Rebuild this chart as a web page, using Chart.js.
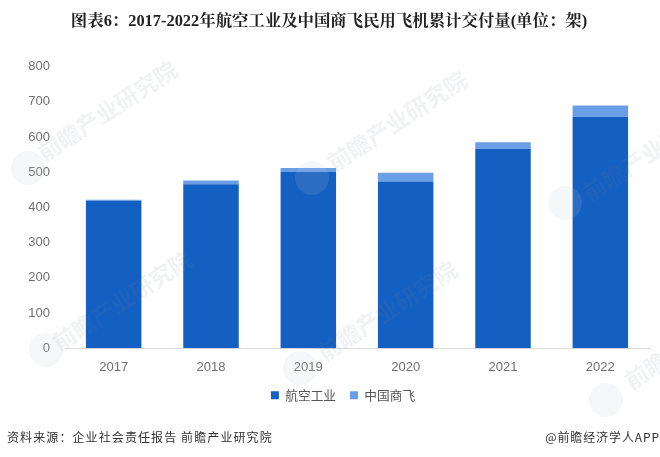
<!DOCTYPE html>
<html><head><meta charset="utf-8">
<script src="https://cdn.jsdelivr.net/npm/chart.js@4"></script>
<style>
html,body{margin:0;padding:0;background:#fff;width:660px;height:457px;overflow:hidden}
#wrap{position:relative;width:660px;height:457px}
canvas{position:absolute;left:0;top:0}
.f{position:absolute;top:429px;font:12px "Noto Sans CJK SC","Noto Sans",sans-serif;color:#333;line-height:16px;white-space:nowrap;letter-spacing:1.1px}
</style></head><body>
<div id="wrap"><canvas id="c" width="660" height="457"></canvas>
<div class="f" style="left:7px">资料来源：企业社会责任报告 前瞻产业研究院</div>
<div class="f" style="right:0;letter-spacing:.9px">@前瞻经济学人APP</div></div>
<script>
const categories=["2017","2018","2019","2020","2021","2022"];
const aviation=[419,466,501,474,567,658];
const comac=[3,11,11,25,18,32];
const yTicks=[0,100,200,300,400,500,600,700,800];
const titleText="图表6：2017-2022年航空工业及中国商飞民用飞机累计交付量(单位：架)";
const watermarkText="前瞻产业研究院";
const watermarkTexts=[[40,155],[330,165],[585,195],[55,345],[320,355],[627,383]];
const watermarkDots=[[28,168],[312,178],[565,203],[46,350],[300,368],[606,400]];
const watermarkPlugin={id:"wm",
 afterLayout(ch){ch.legend.left+=18.5;ch.legend.right+=18.5;ch.titleBlock.left+=4.5;ch.titleBlock.right+=4.5;},
 afterDraw(ch){const c=ch.ctx;
  watermarkDots.forEach(([x,y])=>{c.save();c.fillStyle="rgba(190,200,205,0.14)";c.beginPath();c.arc(x,y,17,0,7);c.fill();c.restore();});
  watermarkTexts.forEach(([x,y])=>{c.save();c.translate(x,y);c.rotate(-0.58);
    c.fillStyle="rgba(120,130,135,0.10)";c.font='bold 23px "Noto Sans CJK SC"';c.textBaseline="middle";c.fillText(watermarkText,0,0);c.restore();});}};
new Chart(document.getElementById("c"),{type:"bar",
 data:{labels:categories,datasets:[
  {label:"航空工业",data:aviation,backgroundColor:"#135fc2",stack:"s",barPercentage:.57,categoryPercentage:1},
  {label:"中国商飞",data:comac,backgroundColor:"#6a9fe8",stack:"s",barPercentage:.57,categoryPercentage:1}]},
 options:{responsive:false,animation:false,devicePixelRatio:1,
  layout:{padding:{left:0,right:11,top:0,bottom:45.5}},
  plugins:{
   title:{display:true,text:titleText,color:"#222",font:{family:'"Liberation Serif","Noto Serif CJK SC","Noto Sans CJK SC"',size:16.4,weight:"bold"},padding:{top:12,bottom:35}},
   legend:{position:"bottom",labels:{boxWidth:8,boxHeight:8,padding:14,color:"#555",font:{family:'"Noto Sans CJK SC"',size:12.7}}},
   tooltip:{enabled:false}},
  scales:{
   x:{stacked:true,grid:{display:false,drawTicks:false},border:{color:"#dcdcdc",width:1},
      afterFit(a){a.height=26.5;},
      ticks:{color:"#707070",padding:11,font:{family:'"Liberation Sans"',size:13}}},
   y:{stacked:true,min:0,max:800,afterBuildTicks(a){a.ticks=yTicks.map(v=>({value:v}));},
      afterFit(a){a.width=65;},
      grid:{display:false,drawTicks:false},border:{display:false},
      ticks:{color:"#707070",padding:15,font:{family:'"Liberation Sans"',size:13}}}}},
 plugins:[watermarkPlugin]});
</script></body></html>
